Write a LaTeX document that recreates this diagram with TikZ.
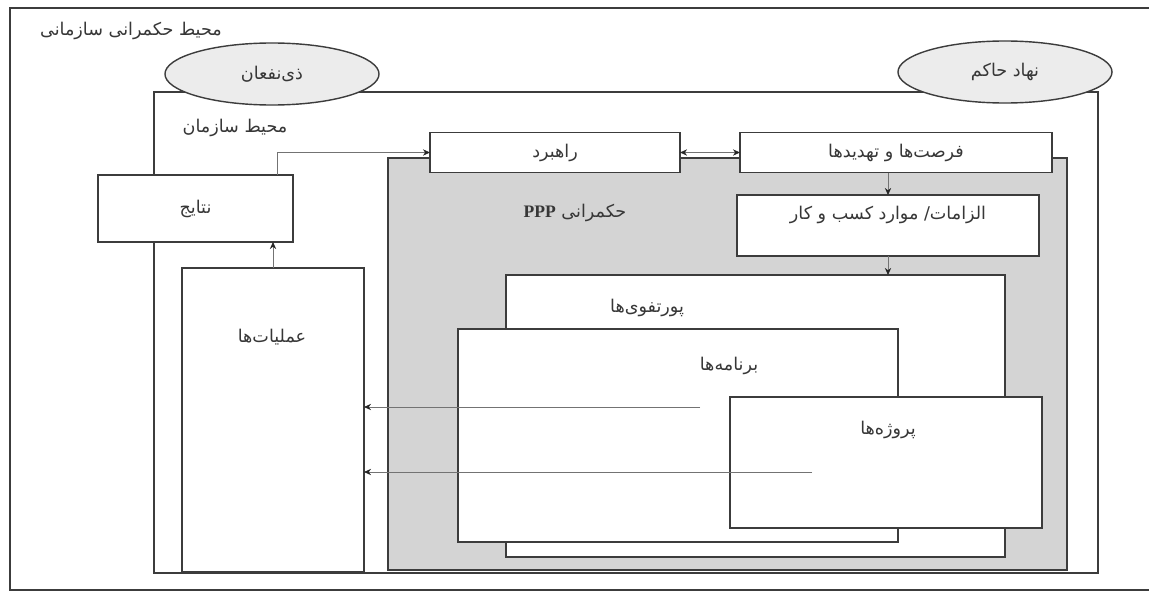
\documentclass[tikz,border=0pt]{standalone}
\usepackage{fontspec}
\usetikzlibrary{shapes.geometric,arrows.meta}
\newfontfamily\fafont[Script=Arabic]{DejaVu Sans}
\newfontfamily\latinserif{Liberation Serif}
\TeXXeTstate=1
\newcommand{\fatext}[1]{{\fafont\beginR #1\endR}}
\definecolor{pppgray}{RGB}{212,212,212}
\definecolor{ovalgray}{RGB}{236,236,236}
\definecolor{linegray}{RGB}{60,60,60}
\definecolor{textgray}{RGB}{55,55,55}

\begin{document}
\begin{tikzpicture}[x=0.025cm, y=-0.025cm, font=\fontsize{12.5}{15}\selectfont]
  % Define styles
  \tikzstyle{box} = [rectangle, draw=linegray, line width=1pt, fill=white,
                     inner sep=0pt, outer sep=0pt, text=textgray]
  \tikzstyle{oval} = [ellipse, draw=linegray, line width=1pt, fill=ovalgray,
                      inner sep=0pt, minimum width=5.35cm, minimum height=1.55cm, text=textgray]
  \tikzstyle{caption} = [inner sep=0pt, text=textgray]
  \tikzstyle{arrow} = [draw=black!55, line width=0.6pt, ->,
                       >={Stealth[length=5pt,width=4.5pt,color=black!85]}]

  \useasboundingbox (0,0) rectangle (1149,591);

  % Frame
  \draw[linegray, line width=0.8pt] (1149,8) -- (10,8) -- (10,590) -- (1149,590);
  \node[caption] (govenv) at (131,31) {\fatext{محیط حکمرانی سازمانی}};

  % Nodes
  \node (org) [box, minimum width=23.6cm, minimum height=12.025cm] at (626,332.5) {};
  \node (stake) [oval] at (272,74) {\fatext{ذی‌نفعان}};
  \node (board) [oval] at (1005,72) {\fatext{نهاد حاکم}};
  \node[caption] (orgenv) at (235,128) {\fatext{محیط سازمان}};

  \node (ppp) [box, fill=pppgray, minimum width=16.975cm, minimum height=10.3cm] at (727.5,364) {};
  \node[caption] (ppptext) at (575,213) {\fatext{حکمرانی \beginL{\latinserif\bfseries PPP}\endL}};

  \node (strategy) [box, minimum width=6.25cm, minimum height=1cm] at (555,152.5) {\fatext{راهبرد}};
  \node (swot) [box, minimum width=7.8cm, minimum height=1cm] at (896,152.5) {\fatext{فرصت‌ها و تهدیدها}};
  \node (needs) [box, minimum width=7.55cm, minimum height=1.525cm] at (888,225.5) {};
  \node[caption] (needstext) at (888,215) {\fatext{الزامات/ موارد کسب و کار}};

  \node (portfolio) [box, minimum width=12.475cm, minimum height=7.05cm] at (755.5,416) {};
  \node[caption] (portfoliotext) at (647,308) {\fatext{پورتفوی‌ها}};
  \node (programs) [box, minimum width=11cm, minimum height=5.325cm] at (678,435.5) {};
  \node[caption] (programstext) at (729,366) {\fatext{برنامه‌ها}};
  \node (projects) [box, minimum width=7.8cm, minimum height=3.275cm] at (886,462.5) {};
  \node[caption] (projectstext) at (888,430) {\fatext{پروژه‌ها}};

  \node (results) [box, minimum width=4.875cm, minimum height=1.675cm] at (195.5,208.5) {\fatext{نتایج}};
  \node (operations) [box, minimum width=4.55cm, minimum height=7.6cm] at (273,420) {};
  \node[caption] (operationstext) at (272,337) {\fatext{عملیات‌ها}};

  \coordinate (progout) at (700,407);
  \coordinate (projout) at (812,472);

  % Arrows
  \draw [arrow, <->] (strategy.east) -- (swot.west);
  \draw [arrow] (swot.south -| needs.north) -- (needs.north);
  \draw [arrow] (needs.south) -- (needs.south |- portfolio.north);
  \draw [arrow] ([xshift=-0.4cm]results.north east) |- (strategy.west);
  \draw [arrow] (operations.north) -- (operations.north |- results.south);
  \draw [arrow] (progout) -- (progout -| operations.east);
  \draw [arrow] (projout) -- (projout -| operations.east);
\end{tikzpicture}
\end{document}
